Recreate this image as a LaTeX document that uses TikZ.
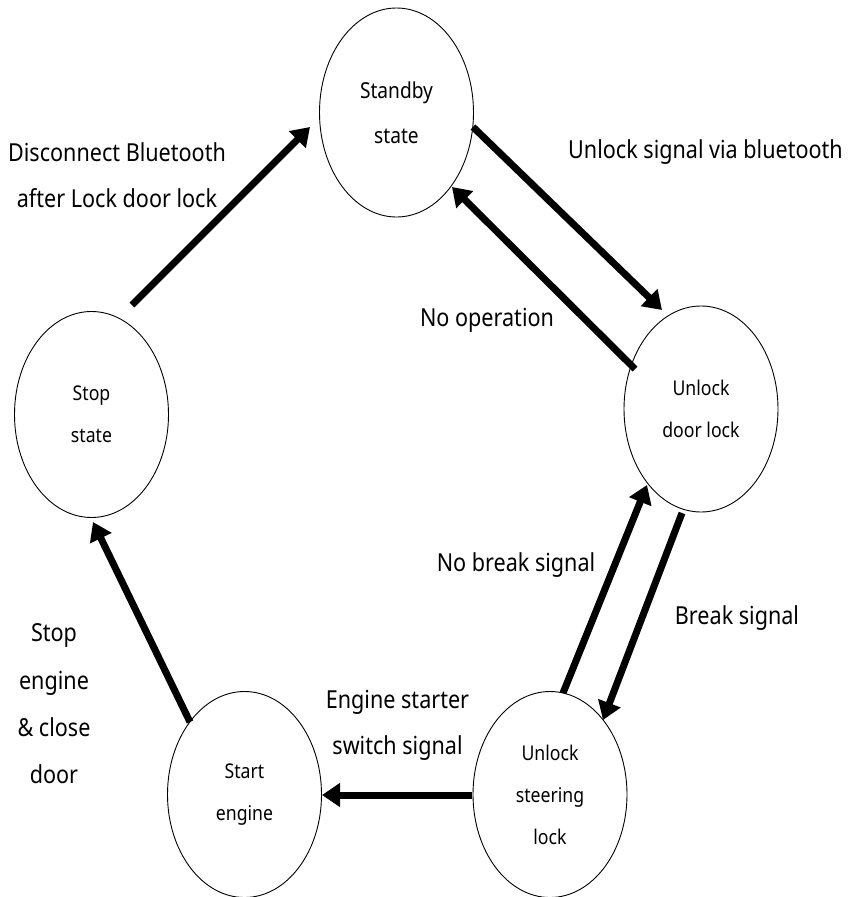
\documentclass[tikz,border=0pt]{standalone}
\usepackage{fontspec}
\setmainfont{Noto Sans}[FakeStretch=0.87]
\usetikzlibrary{arrows.meta,shapes.geometric}
\begin{document}
\begin{tikzpicture}[x=1pt,y=-1pt,
  state/.style={draw=black, line width=0.9pt, ellipse, inner sep=0pt,
    minimum width=154pt, minimum height=206pt, align=center,
    font=\fontsize{20.3}{42}\selectfont},
  lab/.style={align=center, inner sep=0pt, font=\fontsize{24.8}{46}\selectfont},
  arr/.style={line width=7pt, -{Triangle[length=18pt,width=23pt]}}]
\useasboundingbox (0,0) rectangle (849,897);
% states
\node[state, minimum height=209pt, font=\fontsize{22}{45}\selectfont] (sb) at (396.5,112.5) {Standby\\state};
\node[state] (ud) at (701,409) {Unlock\\door lock};
\node[state] (stop) at (91.5,414.5) {Stop\\state};
\node[state] (se) at (244.5,794.5) {Start\\engine};
\node[state] (us) at (550,794.5) {Unlock\\steering\\lock};
% transitions
\draw[arr] ([shift={(40.5,-109.5)}]stop.center) -- ([shift={(-86.5,14.5)}]sb.center);
\draw[arr] ([shift={(76.5,14.5)}]sb.center) -- ([shift={(-39,-99)}]ud.center);
\draw[arr] ([shift={(-66,-40)}]ud.center) -- ([shift={(55.5,74.5)}]sb.center);
\draw[arr] ([shift={(-19,104)}]ud.center) -- ([shift={(53,-74.5)}]us.center);
\draw[arr] ([shift={(13,-101.5)}]us.center) -- ([shift={(-54,76)}]ud.center);
\draw[arr] ([shift={(-78,0.5)}]us.center) -- ([shift={(77.5,0.5)}]se.center);
\draw[arr] ([shift={(-54.5,-72.5)}]se.center) -- ([shift={(1.5,107.5)}]stop.center);
% labels
\node[lab] (l1) at (117,175) {Disconnect Bluetooth\\after Lock door lock};
\node[lab] (l2) at (705.5,152) {Unlock signal via bluetooth};
\node[lab] (l3) at (487,320) {No operation};
\node[lab] (l4) at (516,565) {No break signal};
\node[lab] (l5) at (737,618) {Break signal};
\node[lab, font=\fontsize{24.8}{47.3}\selectfont] (l6) at (54,704) {Stop\\engine\\\& close\\door};
\node[lab] (l7) at (397.5,725.5) {Engine starter\\switch signal};
\end{tikzpicture}
\end{document}
